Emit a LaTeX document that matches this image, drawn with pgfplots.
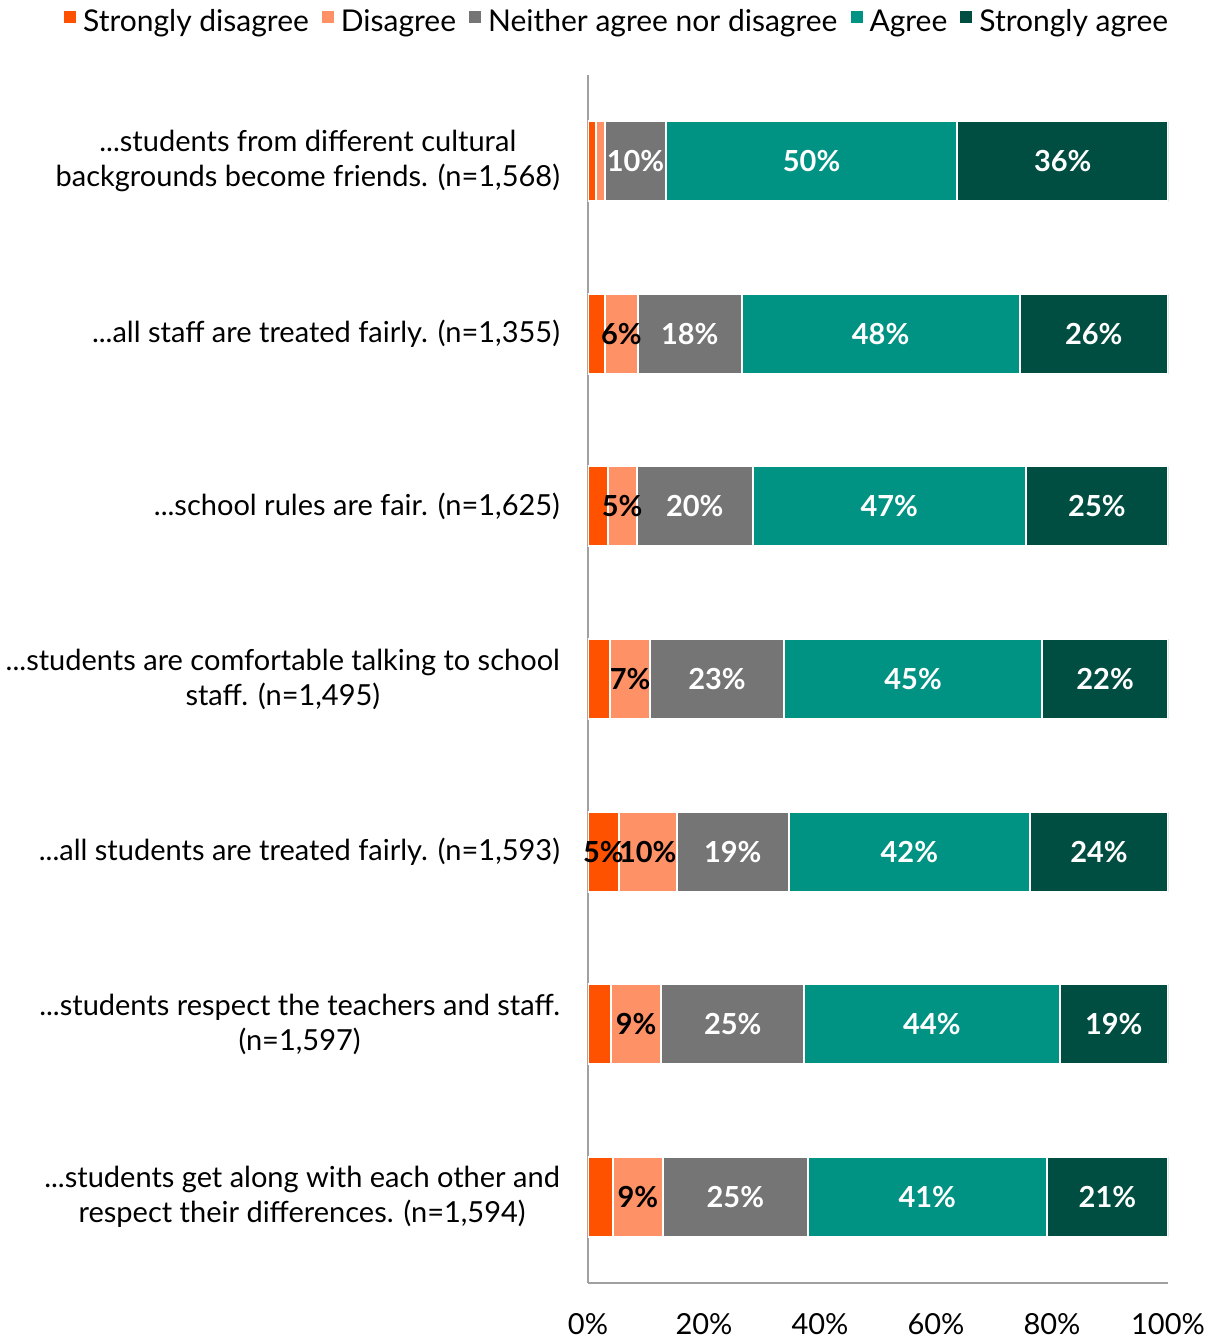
\documentclass[border=0pt]{standalone}
\usepackage{fontspec}
\setmainfont{Lato}
\usepackage{pgfplots}
\usepackage{pgfplotstable}
\pgfplotsset{compat=1.18}
\usetikzlibrary{calc}

\definecolor{csd}{RGB}{255,82,0}
\definecolor{cd}{RGB}{255,145,102}
\definecolor{cn}{RGB}{117,117,117}
\definecolor{ca}{RGB}{0,147,131}
\definecolor{csa}{RGB}{0,77,65}
\definecolor{axgray}{RGB}{160,160,160}

\newcommand{\ddd}{...}

\pgfplotstableread[col sep=comma]{
y,sd,d,n,a,sa,sdl,dl,nl,al,sal
1,1.4,1.6,10.4,50.3,36.3,,,10\%,50\%,36\%
2,2.9,5.7,17.9,47.9,25.6,,6\%,18\%,48\%,26\%
3,3.4,5.0,20.0,47.1,24.5,,5\%,20\%,47\%,25\%
4,3.8,6.9,23.1,44.5,21.7,,7\%,23\%,45\%,22\%
5,5.3,10.0,19.3,41.6,23.8,5\%,10\%,19\%,42\%,24\%
6,4.0,8.6,24.7,44.0,18.7,,9\%,25\%,44\%,19\%
7,4.3,8.6,25.0,41.2,20.9,,9\%,25\%,41\%,21\%
}\data

\begin{document}
\begin{tikzpicture}
\fontsize{14.5}{17.5}\selectfont
\begin{axis}[
  scale only axis,
  width=290pt, height=604pt,
  xbar stacked,
  bar width=40pt,
  xmin=0, xmax=100,
  ymin=0.5, ymax=7.5,
  y dir=reverse,
  axis x line*=bottom,
  axis y line*=left,
  axis line style={axgray, line width=1pt},
  xtick={0,20,40,60,80,100},
  xticklabel={\pgfmathprintnumber{\tick}\%},
  xticklabel style={yshift=-10pt},
  ytick={1,2,3,4,5,6,7},
  yticklabels={
    {\ddd students from different cultural\\backgrounds become friends. (n=1,568)},
    {\ddd all staff are treated fairly. (n=1,355)},
    {\ddd school rules are fair. (n=1,625)},
    {\ddd students are comfortable talking to school\\staff. (n=1,495)},
    {\ddd all students are treated fairly. (n=1,593)},
    {\ddd students respect the teachers and staff.\\(n=1,597)},
    {\ddd students get along with each other and\\respect their differences. (n=1,594)}},
  yticklabel style={align=center, xshift=-9pt},
  major tick length=0pt,
  tick label style={font=\fontsize{14.5}{17.5}\selectfont},
  /pgf/number format/assume math mode=true,
  point meta=explicit symbolic,
  nodes near coords,
  every node near coord/.append style={anchor=center,
    font=\fontsize{14.5}{17}\selectfont\bfseries},
  every axis plot/.append style={draw=white, line width=1pt},
  legend columns=5,
  legend style={at={(axis description cs:0.052,1.0435)}, anchor=center,
    draw=none, fill=none, font=\fontsize{15}{17}\selectfont,
    /tikz/every even column/.append style={column sep=4.5pt},
    /tikz/every odd column/.append style={column sep=1.5pt}},
  legend image code/.code={\fill[#1,draw=none] (0pt,-0.5pt) rectangle (6pt,5.5pt);},
]
\addplot[fill=csd, every node near coord/.append style={text=black}] table[x=sd, y=y, meta=sdl] {\data};
\addplot[fill=cd, every node near coord/.append style={text=black}] table[x=d, y=y, meta=dl] {\data};
\addplot[fill=cn, every node near coord/.append style={text=white}] table[x=n, y=y, meta=nl] {\data};
\addplot[fill=ca, every node near coord/.append style={text=white}] table[x=a, y=y, meta=al] {\data};
\addplot[fill=csa, every node near coord/.append style={text=white}] table[x=sa, y=y, meta=sal] {\data};
\legend{Strongly disagree, Disagree, Neither agree nor disagree, Agree, Strongly agree}
\end{axis}
\pgfresetboundingbox
\path[use as bounding box] ($(current axis.south west)+(-294pt,-27.5pt)$) rectangle ($(current axis.north east)+(23.5pt,37.5pt)$);
\end{tikzpicture}
\end{document}
